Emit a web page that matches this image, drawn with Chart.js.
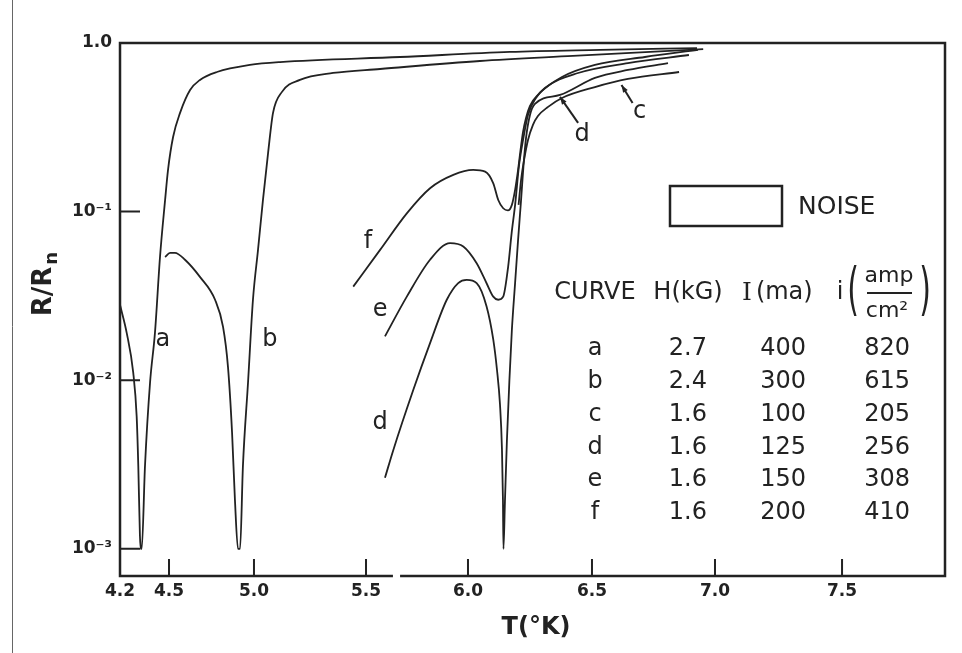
<!DOCTYPE html>
<html>
<head>
<meta charset="utf-8">
<script src="https://cdn.jsdelivr.net/npm/chart.js@4.4.1/dist/chart.umd.min.js"></script>
<style>
  html, body { margin: 0; padding: 0; background: #fff; }
  canvas { display: block; }
</style>
</head>
<body>
<canvas id="chart" width="962" height="653"></canvas>
<script>
// ticks
const xTickValues = [4.2, 4.5, 5.0, 5.5, 6.0, 6.5, 7.0, 7.5];
const yTickValues = [1, 0.1, 0.01, 0.001];
const yTickLabels = ['1.0', '10⁻¹', '10⁻²', '10⁻³'];

// curves: T (°K) and R/Rn
const aT = [4.2, 4.241, 4.281, 4.302, 4.312, 4.322, 4.327, 4.333, 4.353, 4.384, 4.414, 4.445, 4.476, 4.494, 4.524, 4.565, 4.624, 4.682, 4.782, 4.976, 5.116, 5.667, 6.169, 6.533, 6.927];
const aR = [0.028, 0.0191, 0.0111, 0.0061, 0.0031, 0.0012, 0.001, 0.001, 0.0031, 0.0097, 0.0191, 0.054, 0.117, 0.177, 0.277, 0.385, 0.526, 0.604, 0.673, 0.741, 0.771, 0.826, 0.885, 0.91, 0.933];

const bT = [4.476, 4.506, 4.535, 4.594, 4.682, 4.771, 4.818, 4.847, 4.871, 4.888, 4.906, 4.918, 4.935, 4.965, 4.994, 5.018, 5.04, 5.063, 5.085, 5.125, 5.205, 5.353, 5.569, 6.048, 6.423, 6.952];
const bR = [0.0538, 0.0569, 0.0569, 0.0518, 0.041, 0.03, 0.0207, 0.012, 0.0049, 0.00195, 0.001, 0.001, 0.0031, 0.0097, 0.03, 0.0593, 0.117, 0.223, 0.385, 0.513, 0.604, 0.664, 0.701, 0.782, 0.838, 0.92];

const cT = [6.204, 6.214, 6.226, 6.242, 6.262, 6.282, 6.323, 6.379, 6.512, 6.646, 6.854];
const cR = [0.1096, 0.154, 0.202, 0.266, 0.327, 0.369, 0.418, 0.472, 0.548, 0.612, 0.673];

const dT = [5.593, 5.634, 5.732, 5.814, 5.896, 5.952, 5.994, 6.035, 6.075, 6.102, 6.117, 6.129, 6.137, 6.141, 6.143, 6.149, 6.157, 6.167, 6.177, 6.19, 6.202, 6.214, 6.224, 6.234, 6.25, 6.27, 6.371, 6.512, 6.646, 6.809];
const dR = [0.00264, 0.00386, 0.00877, 0.0166, 0.03, 0.0377, 0.0394, 0.0377, 0.0274, 0.0174, 0.0115, 0.0072, 0.0039, 0.00195, 0.001, 0.0019, 0.0044, 0.01, 0.0199, 0.0378, 0.068, 0.117, 0.189, 0.273, 0.374, 0.435, 0.492, 0.621, 0.692, 0.76];

const eT = [5.593, 5.7, 5.814, 5.912, 5.977, 6.035, 6.075, 6.102, 6.122, 6.142, 6.162, 6.176, 6.19, 6.206, 6.222, 6.242, 6.274, 6.31, 6.444, 6.646, 6.894];
const eR = [0.0182, 0.0313, 0.0518, 0.065, 0.0621, 0.0494, 0.0376, 0.0313, 0.03, 0.0313, 0.0472, 0.0745, 0.1096, 0.189, 0.266, 0.374, 0.472, 0.541, 0.664, 0.76, 0.849];

const fT = [5.443, 5.569, 5.7, 5.814, 5.928, 6.021, 6.069, 6.102, 6.122, 6.142, 6.161, 6.177, 6.19, 6.202, 6.212, 6.222, 6.234, 6.25, 6.282, 6.379, 6.512, 6.715, 6.931];
const fR = [0.0359, 0.0593, 0.0977, 0.1377, 0.1652, 0.1766, 0.1726, 0.1472, 0.1172, 0.1047, 0.1016, 0.1096, 0.1346, 0.1766, 0.2323, 0.2966, 0.359, 0.4236, 0.492, 0.628, 0.741, 0.826, 0.91];

// table
const curveNames = ['a', 'b', 'c', 'd', 'e', 'f'];
const fieldH = ['2.7', '2.4', '1.6', '1.6', '1.6', '1.6'];
const currentI = ['400', '300', '100', '125', '150', '200'];
const densityI = ['820', '615', '205', '256', '308', '410'];

// the T axis is not uniform in the figure: knots (value -> fraction of axis width)
const xKnots = [4.2, 4.5, 5.0, 5.5, 6.0, 6.5, 7.0, 7.5, 7.905];
const xKnotPos = [0, 0.0594, 0.1624, 0.2982, 0.4218, 0.5721, 0.7212, 0.8752, 1];
const xBreak = [5.632, 5.667];

const ink = '#222';
const font = 'DejaVu Sans';

class BrokenTScale extends Chart.LinearScale {
  static id = 'brokenT';
  static defaults = {};
  getPixelForValue(v) {
    if (v === null || v === undefined) return NaN;
    let i = 0;
    while (i < xKnots.length - 2 && v > xKnots[i + 1]) i++;
    const d = xKnotPos[i] + (v - xKnots[i]) / (xKnots[i + 1] - xKnots[i]) * (xKnotPos[i + 1] - xKnotPos[i]);
    return this.getPixelForDecimal(d);
  }
  getValueForPixel(px) {
    const d = this.getDecimalForPixel(px);
    let i = 0;
    while (i < xKnotPos.length - 2 && d > xKnotPos[i + 1]) i++;
    return xKnots[i] + (d - xKnotPos[i]) / (xKnotPos[i + 1] - xKnotPos[i]) * (xKnots[i + 1] - xKnots[i]);
  }
}
Chart.register(BrokenTScale);

// curve letters placed at (T, R)
const curveTags = [
  ['a', 4.463, 0.0174], ['b', 5.071, 0.0174], ['f', 5.51, 0.066], ['e', 5.569, 0.0261],
  ['d', 5.569, 0.00559], ['d', 6.46, 0.285], ['c', 6.694, 0.39]
];
const tagArrows = [[6.665, 0.441, 6.62, 0.564], [6.444, 0.336, 6.371, 0.479]];

const series = [[aT, aR], [bT, bR], [cT, cR], [dT, dR], [eT, eR], [fT, fR]];

const overlay = {
  id: 'overlay',
  afterDraw(chart) {
    const { ctx, chartArea: ca, scales: { x, y } } = chart;
    ctx.save();
    ctx.strokeStyle = ink;
    ctx.fillStyle = ink;

    // page edge line
    ctx.lineWidth = 1;
    ctx.strokeStyle = '#666';
    ctx.beginPath();
    ctx.moveTo(12.5, 0); ctx.lineTo(12.5, 653);
    ctx.stroke();
    ctx.strokeStyle = ink;

    // frame with the break in the T axis
    ctx.lineWidth = 2.5;
    const g0 = x.getPixelForValue(xBreak[0]), g1 = x.getPixelForValue(xBreak[1]);
    ctx.beginPath();
    ctx.moveTo(g0, ca.bottom); ctx.lineTo(ca.left, ca.bottom); ctx.lineTo(ca.left, ca.top);
    ctx.lineTo(ca.right, ca.top); ctx.lineTo(ca.right, ca.bottom); ctx.lineTo(g1, ca.bottom);
    ctx.stroke();

    // inward ticks
    ctx.lineWidth = 2;
    ctx.beginPath();
    xTickValues.slice(1).forEach(v => {
      const px = x.getPixelForValue(v);
      ctx.moveTo(px, ca.bottom); ctx.lineTo(px, ca.bottom - 17);
    });
    yTickValues.slice(1).forEach(v => {
      const py = y.getPixelForValue(v);
      ctx.moveTo(ca.left, py); ctx.lineTo(ca.left + 20, py);
    });
    ctx.stroke();

    // axis titles
    ctx.font = 'bold 24px ' + font;
    ctx.textBaseline = 'middle';
    ctx.textAlign = 'center';
    ctx.fillText('T(°K)', 536, 628);

    ctx.save();
    ctx.translate(44, 284);
    ctx.rotate(-Math.PI / 2);
    ctx.textAlign = 'left';
    ctx.font = 'bold 26px ' + font;
    const rr = 'R/R';
    const w = ctx.measureText(rr).width;
    ctx.font = 'bold 18px ' + font;
    const wn = ctx.measureText('n').width;
    const start = -(w + wn + 2) / 2;
    ctx.font = 'bold 26px ' + font;
    ctx.fillText(rr, start, 0);
    ctx.font = 'bold 18px ' + font;
    ctx.fillText('n', start + w + 2, 8);
    ctx.restore();

    // curve letters and arrows
    ctx.font = '24px ' + font;
    curveTags.forEach(([t, xv, yv]) => {
      ctx.fillText(t, x.getPixelForValue(xv), y.getPixelForValue(yv));
    });
    ctx.lineWidth = 2;
    tagArrows.forEach(([x0, y0, x1, y1]) => {
      const p0 = [x.getPixelForValue(x0), y.getPixelForValue(y0)];
      const p1 = [x.getPixelForValue(x1), y.getPixelForValue(y1)];
      ctx.beginPath();
      ctx.moveTo(p0[0], p0[1]); ctx.lineTo(p1[0], p1[1]);
      ctx.stroke();
      const ang = Math.atan2(p1[1] - p0[1], p1[0] - p0[0]);
      ctx.beginPath();
      ctx.moveTo(p1[0], p1[1]);
      ctx.lineTo(p1[0] - 8 * Math.cos(ang - 0.35), p1[1] - 8 * Math.sin(ang - 0.35));
      ctx.lineTo(p1[0] - 8 * Math.cos(ang + 0.35), p1[1] - 8 * Math.sin(ang + 0.35));
      ctx.closePath();
      ctx.fill();
    });

    // NOISE box
    ctx.lineWidth = 2.5;
    ctx.strokeRect(670, 186, 112, 40);
    ctx.font = '25px ' + font;
    ctx.textAlign = 'left';
    ctx.fillText('NOISE', 798, 207);

    // table header
    ctx.font = '24px ' + font;
    ctx.textAlign = 'center';
    ctx.fillText('CURVE', 595, 293);
    ctx.fillText('H(kG)', 688, 293);
    ctx.textAlign = 'left';
    ctx.font = '25px DejaVu Serif';
    ctx.fillText('I', 742, 293);
    const wi = ctx.measureText('I').width;
    ctx.font = '24px ' + font;
    ctx.fillText('(ma)', 742 + wi + 4, 293);
    ctx.textAlign = 'center';
    ctx.fillText('i', 840, 293);
    ctx.font = '22px ' + font;
    ctx.fillText('amp', 889, 276);
    ctx.fillText('cm²', 887, 311);
    ctx.lineWidth = 1.8;
    ctx.beginPath();
    ctx.moveTo(867, 293); ctx.lineTo(912, 293);
    ctx.stroke();
    ctx.save();
    ctx.translate(0, 293);
    ctx.scale(1, 1.9);
    ctx.font = '30px ' + font;
    ctx.fillText('(', 853, 0);
    ctx.fillText(')', 925, 0);
    ctx.restore();

    // table rows
    ctx.font = '24px ' + font;
    curveNames.forEach((n, i) => {
      const ry = 349 + 32.8 * i;
      ctx.textAlign = 'center';
      ctx.fillText(n, 595, ry);
      ctx.textAlign = 'right';
      ctx.fillText(fieldH[i], 707, ry);
      ctx.fillText(currentI[i], 806, ry);
      ctx.fillText(densityI[i], 910, ry);
    });
    ctx.restore();
  }
};

new Chart(document.getElementById('chart'), {
  type: 'line',
  data: {
    datasets: series.map(([T, R], k) => ({
      label: curveNames[k],
      data: T.map((t, i) => ({ x: t, y: R[i] })),
      borderColor: ink,
      borderWidth: 1.8,
      pointRadius: 0,
      fill: false,
      cubicInterpolationMode: 'monotone'
    }))
  },
  options: {
    responsive: false,
    animation: false,
    layout: { padding: { top: 43, right: 17, left: 0, bottom: 0 } },
    plugins: { legend: { display: false }, tooltip: { enabled: false } },
    scales: {
      x: {
        type: 'brokenT',
        min: 4.2,
        max: 7.905,
        grid: { display: false, drawTicks: false },
        border: { display: false },
        afterBuildTicks: s => { s.ticks = xTickValues.map(v => ({ value: v })); },
        afterFit: s => { s.height = 77; },
        ticks: {
          autoSkip: false,
          maxRotation: 0,
          padding: 5,
          color: ink,
          font: { family: font, size: 17, weight: 'bold' },
          callback: v => Number(v).toFixed(1)
        }
      },
      y: {
        type: 'logarithmic',
        min: 0.00069,
        max: 1,
        grid: { display: false, drawTicks: false },
        border: { display: false },
        afterBuildTicks: s => { s.ticks = yTickValues.map(v => ({ value: v })); },
        afterFit: s => { s.width = 120; },
        ticks: {
          autoSkip: false,
          padding: 8,
          color: ink,
          font: { family: font, size: 17, weight: 'bold' },
          callback: v => yTickLabels[yTickValues.indexOf(v)]
        }
      }
    }
  },
  plugins: [overlay]
});
</script>
</body>
</html>
